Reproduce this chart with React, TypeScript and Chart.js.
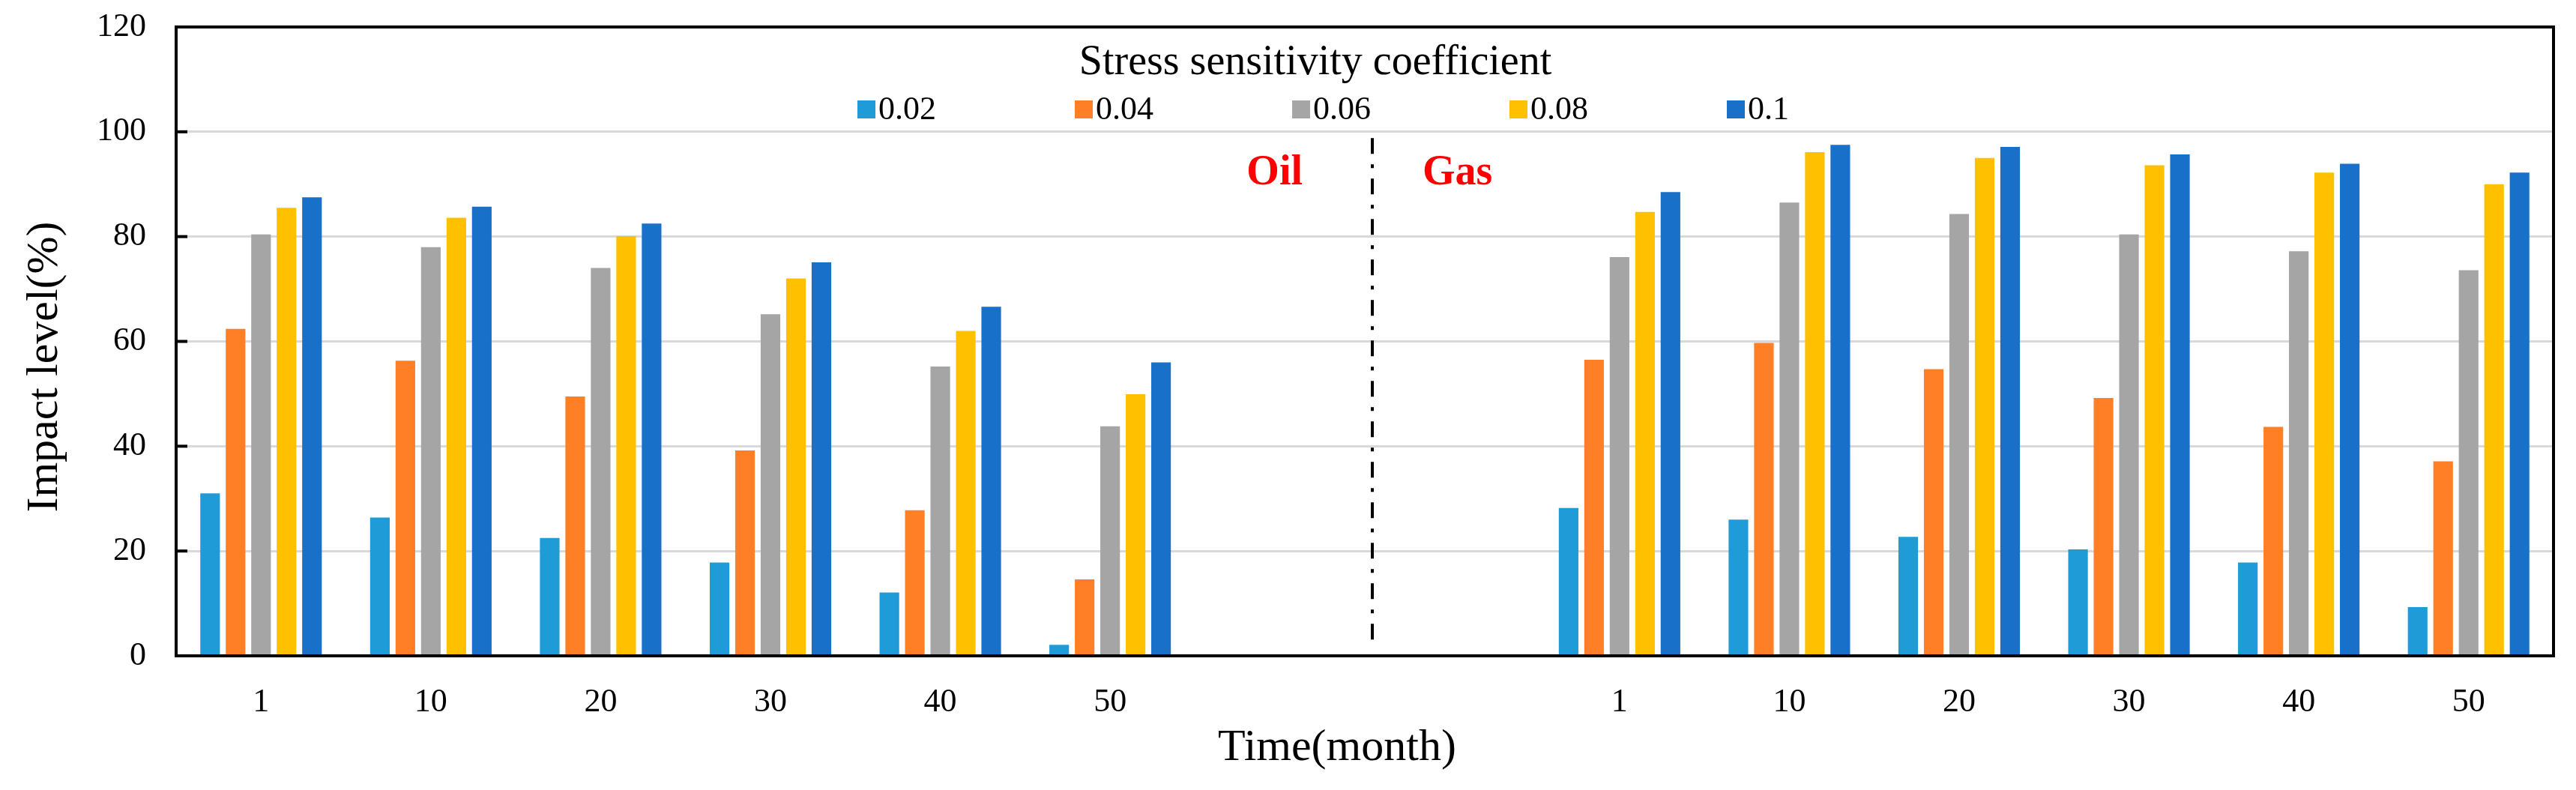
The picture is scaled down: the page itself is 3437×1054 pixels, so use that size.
import React, { useEffect, useRef } from "react";
import { Chart, registerables } from "chart.js";

Chart.register(...registerables);

// ---- data ----
const months = ["1", "10", "20", "30", "40", "50"];
const gapLabels = ["", ""];
const coefficients = ["0.02", "0.04", "0.06", "0.08", "0.1"];
const legendTitle = "Stress sensitivity coefficient";
const oilLabel = "Oil";
const gasLabel = "Gas";
const xTitle = "Time(month)";
const yTitle = "Impact level(%)";

const oil002 = [31.0, 26.4, 22.5, 17.8, 12.1, 2.1];
const oil004 = [62.4, 56.3, 49.5, 39.2, 27.8, 14.6];
const oil006 = [80.4, 78.0, 74.0, 65.2, 55.2, 43.8];
const oil008 = [85.5, 83.6, 80.1, 72.0, 62.0, 49.9];
const oil010 = [87.5, 85.7, 82.5, 75.1, 66.6, 56.0];

const gas002 = [28.2, 26.0, 22.7, 20.3, 17.8, 9.3];
const gas004 = [56.5, 59.7, 54.7, 49.2, 43.7, 37.1];
const gas006 = [76.1, 86.5, 84.3, 80.4, 77.2, 73.6];
const gas008 = [84.7, 96.1, 95.0, 93.6, 92.2, 90.0];
const gas010 = [88.5, 97.5, 97.1, 95.7, 93.9, 92.2];

const colors = ["#1F9BD8", "#FF7F27", "#A5A5A5", "#FFC000", "#1870C9"];

const FONT = "'Liberation Serif', 'Times New Roman', serif";

const oilSeries = [oil002, oil004, oil006, oil008, oil010];
const gasSeries = [gas002, gas004, gas006, gas008, gas010];

const overlayPlugin = {
  id: "overlay",
  afterDatasetsDraw(chart: any) {
    const { ctx, chartArea } = chart;
    const yScale = chart.scales.y;
    const xScale = chart.scales.x;
    ctx.save();
    // inward ticks on y axis
    ctx.strokeStyle = "#000";
    ctx.lineWidth = 4;
    yScale.ticks.forEach((t: any) => {
      const y = yScale.getPixelForValue(t.value);
      ctx.beginPath();
      ctx.moveTo(chartArea.left, y);
      ctx.lineTo(chartArea.left + 15, y);
      ctx.stroke();
    });
    // plot border
    ctx.strokeRect(
      chartArea.left,
      chartArea.top,
      chartArea.right - chartArea.left,
      chartArea.bottom - chartArea.top
    );
    // divider between oil and gas
    const dx = (xScale.getPixelForValue(6) + xScale.getPixelForValue(7)) / 2 + 10;
    ctx.setLineDash([21, 14, 5, 14]);
    ctx.lineWidth = 4;
    ctx.beginPath();
    ctx.moveTo(dx, yScale.getPixelForValue(98.8));
    ctx.lineTo(dx, yScale.getPixelForValue(2.5));
    ctx.stroke();
    ctx.setLineDash([]);
    // Oil / Gas labels
    const ly = yScale.getPixelForValue(92.1);
    ctx.fillStyle = "#FF0000";
    ctx.font = `bold 56px ${FONT}`;
    ctx.textBaseline = "middle";
    ctx.textAlign = "right";
    ctx.fillText(oilLabel, dx - 93, ly);
    ctx.textAlign = "left";
    ctx.fillText(gasLabel, dx + 67, ly);
    ctx.restore();
  },
  afterDraw(chart: any) {
    const { ctx, chartArea } = chart;
    const midX = (chartArea.left + chartArea.right) / 2;
    const midY = (chartArea.top + chartArea.bottom) / 2;
    const cx = midX - 66;
    ctx.save();
    ctx.fillStyle = "#000";
    ctx.textBaseline = "middle";
    ctx.textAlign = "center";
    // legend title
    ctx.font = `56px ${FONT}`;
    ctx.fillText(legendTitle, cx, 76);
    // legend items
    ctx.font = `44px ${FONT}`;
    ctx.textAlign = "left";
    chart.data.datasets.forEach((ds: any, i: number) => {
      const bx = cx - 611 + 290 * i;
      const by = 138;
      ctx.fillStyle = ds.backgroundColor;
      ctx.fillRect(bx, by - 12, 24, 24);
      ctx.fillStyle = "#000";
      ctx.fillText(ds.label, bx + 28, by + 1);
    });
    // axis titles
    ctx.textAlign = "center";
    ctx.font = `60px ${FONT}`;
    ctx.fillText(xTitle, midX - 37, chart.height - 48);
    ctx.translate(52, midY + 34);
    ctx.rotate(-Math.PI / 2);
    ctx.fillText(yTitle, 0, 0);
    ctx.restore();
  },
};

export default function App() {
  const ref = useRef<HTMLCanvasElement | null>(null);
  useEffect(() => {
    if (!ref.current) return;
    const labels = [...months, ...gapLabels, ...months];
    const datasets = coefficients.map((c, i) => ({
      label: c,
      data: [...oilSeries[i], null, null, ...gasSeries[i]],
      backgroundColor: colors[i],
      borderWidth: 0,
      categoryPercentage: 0.75,
      barPercentage: 0.77,
    }));
    const chart = new Chart(ref.current, {
      type: "bar",
      data: { labels, datasets },
      plugins: [overlayPlugin],
      options: {
        animation: false,
        responsive: true,
        maintainAspectRatio: false,
        layout: { padding: { top: 28, right: 22, left: 0, bottom: 0 } },
        plugins: {
          legend: { display: false },
          tooltip: { enabled: false },
        },
        scales: {
          x: {
            grid: { display: false, drawTicks: false },
            border: { display: true, color: "#000", width: 4 },
            ticks: {
              color: "#000",
              font: { family: FONT, size: 44 },
              padding: 36,
              maxRotation: 0,
              autoSkip: false,
            },
            afterFit: (s: any) => {
              s.height = 171;
              s.paddingLeft = 0;
              s.paddingRight = 0;
            },
          },
          y: {
            min: 0,
            max: 120,
            ticks: {
              stepSize: 20,
              color: "#000",
              font: { family: FONT, size: 44 },
              padding: 40,
            },
            grid: { color: "#D9D9D9", lineWidth: 3, drawTicks: false },
            border: { display: true, color: "#000", width: 4 },
            afterFit: (s: any) => {
              s.width = 227;
              s.paddingTop = 0;
              s.paddingBottom = 0;
            },
          },
        },
      },
    });
    return () => chart.destroy();
  }, []);
  return (
    <div style={{ width: 3421, height: 1038, position: "relative" }}>
      <canvas ref={ref} />
    </div>
  );
}
